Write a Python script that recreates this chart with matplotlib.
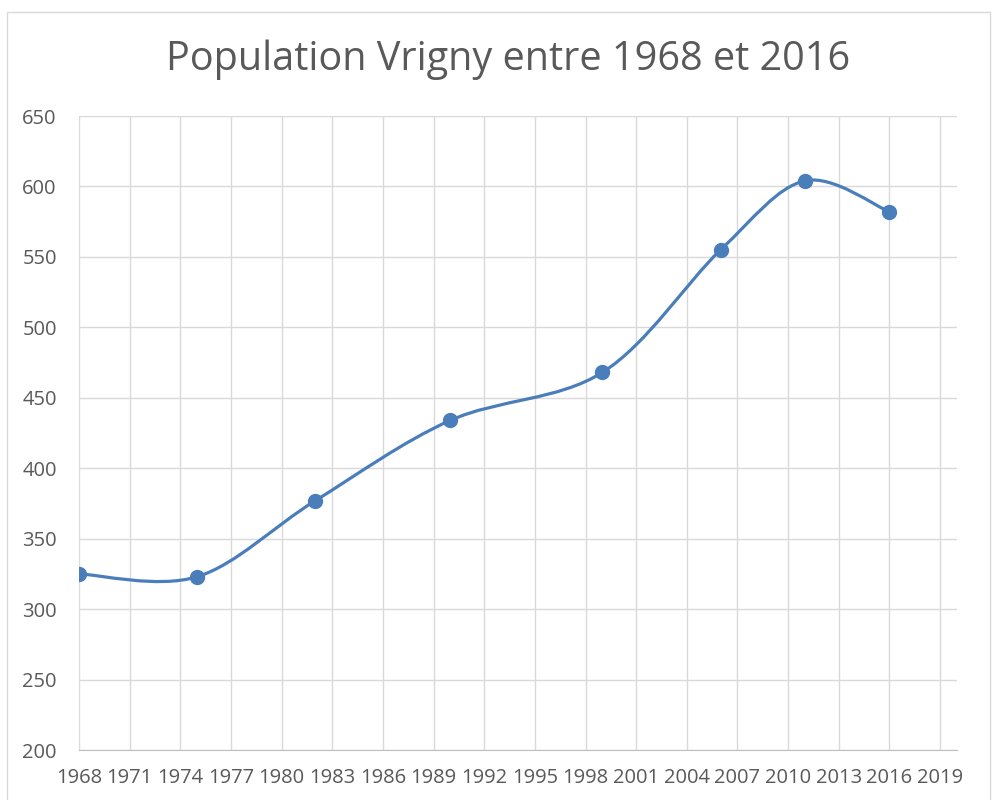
import numpy as np
import matplotlib.pyplot as plt
from matplotlib.path import Path
from matplotlib.patches import PathPatch, Rectangle

# Données : recensements de Vrigny
annees = [1968, 1975, 1982, 1990, 1999, 2006, 2011, 2016]
population = [325, 323, 377, 434, 468, 555, 604, 582]

x_ticks = list(range(1968, 2020, 3))
y_ticks = list(range(200, 651, 50))

couleur = "#4a7ebb"
gris = "#595959"

plt.rcParams["font.family"] = ["Open Sans", "DejaVu Sans"]

fig = plt.figure(figsize=(9.93, 8), dpi=100)
ax = fig.add_axes([79 / 993, 1 - 750 / 800, (957 - 79) / 993, (750 - 116) / 800])

# cadre du graphique
fig.patches.append(Rectangle((7 / 993, -0.01), (990 - 7) / 993, (800 - 12) / 800 + 0.01,
                             transform=fig.transFigure, fill=False, edgecolor="#d9d9d9", lw=1))

# courbe lissée (Bezier, comme le lissage Excel)
x = np.array(annees, dtype=float)
y = np.array(population, dtype=float)
n = len(x)
verts = [(x[0], y[0])]
codes = [Path.MOVETO]
for i in range(n - 1):
    i0 = max(i - 1, 0)
    i3 = min(i + 2, n - 1)
    c1 = (x[i] + (x[i + 1] - x[i0]) / 6, y[i] + (y[i + 1] - y[i0]) / 6)
    c2 = (x[i + 1] - (x[i3] - x[i]) / 6, y[i + 1] - (y[i3] - y[i]) / 6)
    verts += [c1, c2, (x[i + 1], y[i + 1])]
    codes += [Path.CURVE4] * 3
ax.add_patch(PathPatch(Path(verts, codes), fill=False, edgecolor=couleur, lw=2.3, zorder=3))
ax.plot(annees, population, "o", color=couleur, markersize=10, zorder=4)

ax.set_xlim(1968, 2020)
ax.set_ylim(200, 650)
ax.set_xticks(x_ticks)
ax.set_yticks(y_ticks)
ax.grid(True, color="#d9d9d9", lw=1)
ax.set_axisbelow(True)
for s in ["top", "right", "left"]:
    ax.spines[s].set_visible(False)
ax.spines["bottom"].set_color("#bfbfbf")
ax.tick_params(length=0, labelsize=14.5, colors=gris)
ax.tick_params(axis="y", pad=16)
ax.tick_params(axis="x", pad=13)

fig.text(508 / 993, 1 - 60 / 800, "Population Vrigny entre 1968 et 2016",
         ha="center", va="center", fontsize=28.5, color=gris)

fig.savefig("out.png", dpi=100)
